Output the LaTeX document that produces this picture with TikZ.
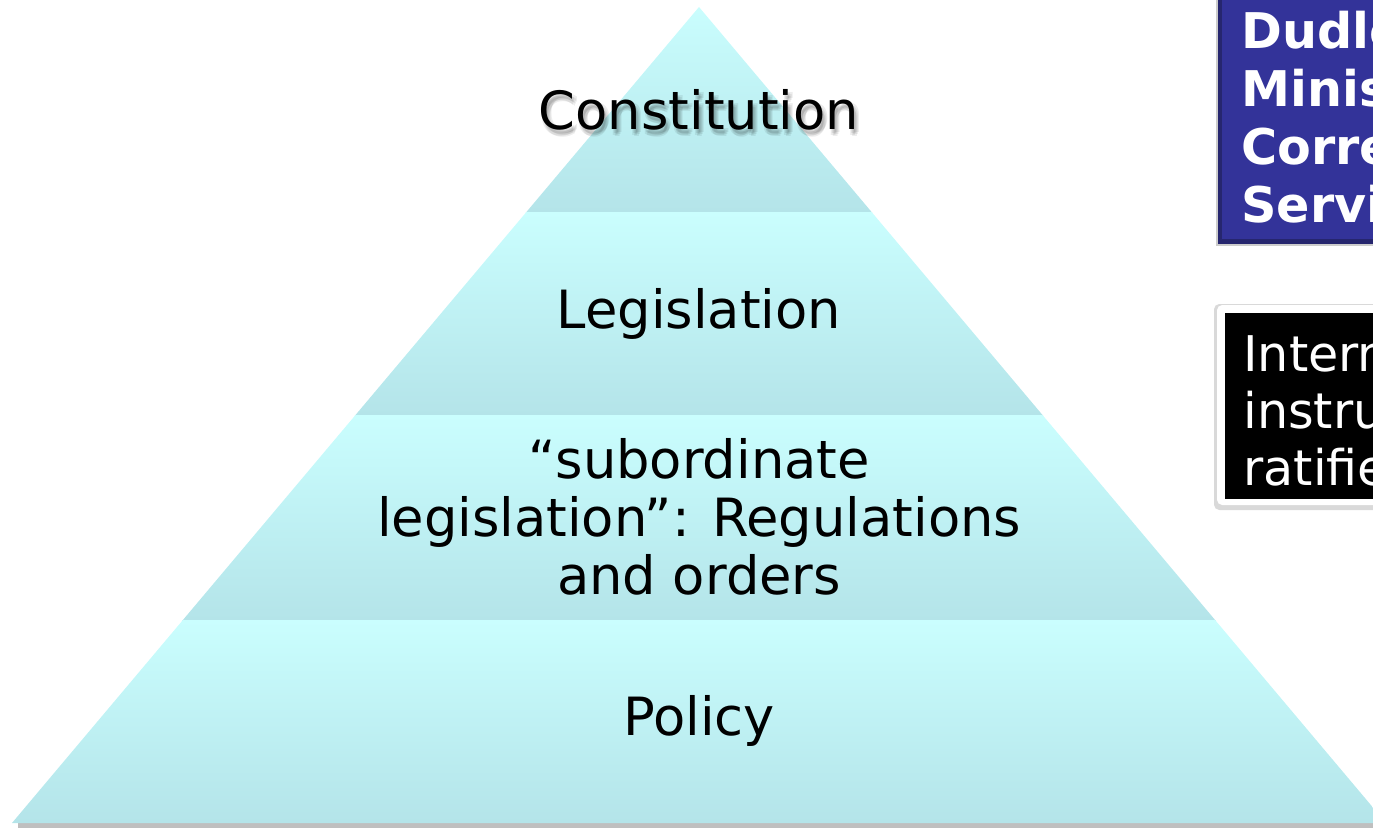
\documentclass[tikz,border=0pt]{standalone}
\usepackage{fontspec}
\setmainfont{DejaVu Sans}
\usepackage{tikz}
\usetikzlibrary{positioning, calc}
\definecolor{tiertop}{RGB}{202,254,254}
\definecolor{tierbottom}{RGB}{180,228,233}
\definecolor{casblue}{RGB}{51,51,153}
\definecolor{casdark}{RGB}{38,38,110}

\tikzset{
  tier/.style={top color=tiertop, bottom color=tierbottom, draw=none},
  tiertext/.style={font=\fontsize{30}{33}\selectfont, text=black, align=center},
  boxtext/.style={anchor=west, align=left, text=white, inner sep=0pt}
}

\begin{document}
\begin{tikzpicture}[x=0.02cm, y=-0.02cm]
\useasboundingbox (0,0) rectangle (1373,828);
\clip (0,0) rectangle (1373,828);

% Pyramid corners
\coordinate (apex) at (699,7);
\coordinate (baseL) at (12,823);
\coordinate (baseR) at (1386,823);

% Shadow under the base
\fill[black!25] (18,822) rectangle (1386,828);

% Tiers
\begin{scope}
\clip (apex) -- (baseL) -- (baseR) -- cycle;
\shade[tier] (0,0) rectangle (1400,212);
\shade[tier] (0,212) rectangle (1400,415);
\shade[tier] (0,415) rectangle (1400,620);
\shade[tier] (0,620) rectangle (1400,823);
\end{scope}

% Tier labels (soft shadow behind the top one)
\foreach \dx/\dy [count=\i] in {2/4, 4/5, 3/7, 5/3, 1/6}
  \node[tiertext, text=black, opacity=0.07] (constshadow\i) at (699+\dx,110+\dy) {Constitution};
\node[tiertext] (constitution) at (699,110) {Constitution};
\node[tiertext] (legislation) at (699,314) {Legislation};
\node[tiertext] (subordinate) at (699,517)
  {“subordinate\\legislation”: Regulations\\and orders};
\node[tiertext] (policy) at (699,721) {Policy};

% Case box
\fill[black!20] (1216,-5) rectangle (1400,246);
\fill[casdark] (1218,-5) rectangle (1400,244);
\fill[casblue] (1222,-5) rectangle (1400,239);
\node[boxtext, font=\bfseries\fontsize{28}{33}\selectfont] (casetext) at (1241,117)
  {Dudley v\\Minister of\\Correctional\\Services};

% Instruments box
\fill[black!15, rounded corners=3] (1214,304) rectangle (1400,510);
\fill[white, rounded corners=3] (1217,305) rectangle (1400,505);
\fill[black] (1225,313) rectangle (1400,499);
\node[boxtext, font=\fontsize{28}{32.5}\selectfont] (instrtext) at (1243,410)
  {International\\instruments\\ratified};
\end{tikzpicture}
\end{document}
